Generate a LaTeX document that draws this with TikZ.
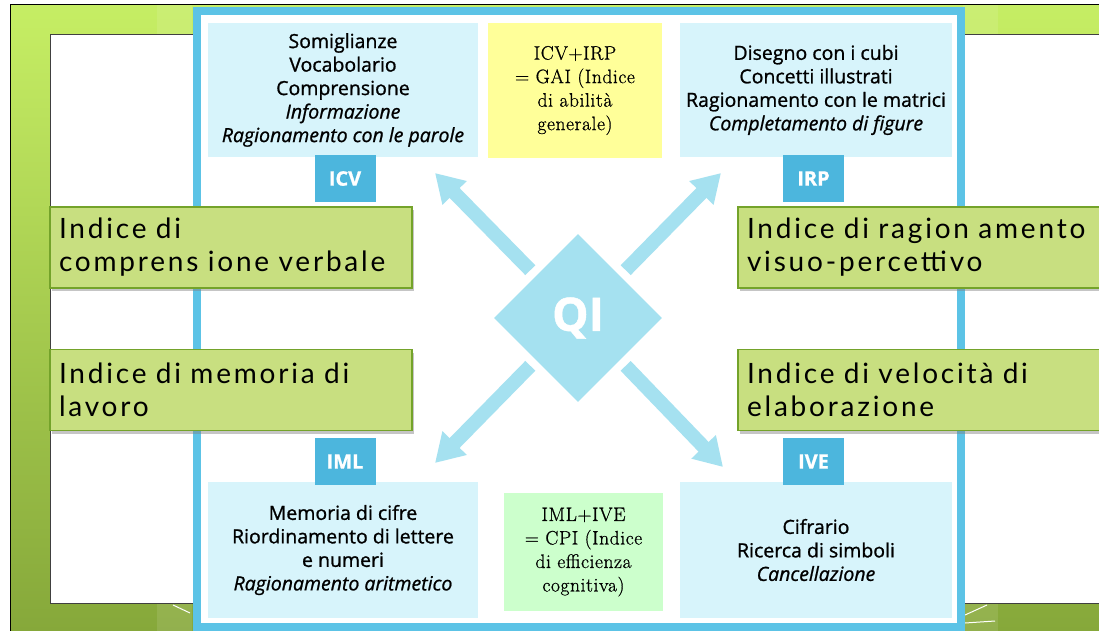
\documentclass[tikz,border=0pt]{standalone}
\usepackage{fontspec}
\newfontfamily\boxfont[FakeBold=1]{Open Sans}
\newfontfamily\indexfont[LetterSpace=10]{Lato}
\newfontfamily\sumfont[FakeBold=0.8,LetterSpace=3]{Latin Modern Roman}
\usetikzlibrary{shapes.geometric,arrows.meta,shadows}

\definecolor{slidetop}{HTML}{C6EE64}
\definecolor{slidebot}{HTML}{86A83A}
\definecolor{panelblue}{HTML}{5CC3E6}
\definecolor{paleblue}{HTML}{D7F4FB}
\definecolor{tagblue}{HTML}{4CB6DD}
\definecolor{qiblue}{HTML}{A5E1F0}
\definecolor{sumyellow}{HTML}{FFFF99}
\definecolor{sumgreen}{HTML}{CCFFCC}
\definecolor{labelfill}{HTML}{C8DF80}
\definecolor{labeledge}{HTML}{74A32A}

\begin{document}
\begin{tikzpicture}[x=1pt,y=-1pt]
\tikzstyle{palebox}=[rectangle,fill=paleblue,inner sep=0pt,align=center,font=\boxfont\fontsize{19.5}{23.5}\selectfont]
\tikzstyle{tagbox}=[rectangle,fill=tagblue,minimum width=61pt,minimum height=47pt,inner sep=0pt,text=white,font=\boxfont\bfseries\fontsize{20}{20}\selectfont]
\tikzstyle{sumbox}=[rectangle,inner sep=0pt,align=center,font=\sumfont\fontsize{19.5}{23.5}\selectfont]
\tikzstyle{indexbox}=[rectangle,fill=labelfill,draw=labeledge,line width=1.5pt,minimum height=81pt,inner xsep=9pt,align=left,font=\indexfont\fontsize{28}{33}\selectfont,drop shadow={shadow xshift=2pt,shadow yshift=-3pt,opacity=0.45}]
\tikzstyle{bigarrow}=[qiblue,line width=14pt,shorten <=8pt,-{Triangle[width=32pt,length=28pt]}]

\fill[white] (0,0) rectangle (1099,631);
\useasboundingbox (0,0) rectangle (1099,631);

\fill[top color=slidetop,bottom color=slidebot] (10,5) rectangle (1099,631);
\fill[white,opacity=0.1] (157,5) rectangle (192,35);
\fill[white,opacity=0.1] (963,5) rectangle (998,35);
\fill[white,opacity=0.1] (157,603) rectangle (192,631);
\fill[white,opacity=0.1] (963,603) rectangle (998,631);
\draw[black,line width=1pt] (10,631) -- (10,5) -- (1099,5);
\filldraw[fill=white,draw=black!75,line width=1pt] (50,35) rectangle (1110,603);
\draw[white,line width=1pt] (173,605) -- (190,613);
\draw[white,line width=1pt] (965,615) -- (987,605);
\draw[white,line width=1pt] (965,623) -- (995,621);

\filldraw[fill=white,draw=panelblue,line width=8pt] (197,11) rectangle (961,627);

\node[palebox,minimum width=270pt,minimum height=134pt] (tests1) at (343,90) {Somiglianze\\Vocabolario\\Comprensione\\\textit{Informazione}\\\textit{Ragionamento con le parole}};
\node[palebox,minimum width=272pt,minimum height=134pt] (tests2) at (816,90) {Disegno con i cubi\\Concetti illustrati\\Ragionamento con le matrici\\\textit{Completamento di figure}};
\node[palebox,minimum width=270pt,minimum height=136pt] (tests3) at (343,550) {Memoria di cifre\\Riordinamento di lettere\\e numeri\\\textit{Ragionamento aritmetico}};
\node[palebox,minimum width=272pt,minimum height=136pt] (tests4) at (816,550) {Cifrario\\Ricerca di simboli\\\textit{Cancellazione}};

\node[sumbox,fill=sumyellow,minimum width=174pt,minimum height=135pt] (gai) at (575,90.5) {ICV+IRP\\= GAI (Indice\\di abilità\\generale)};
\node[sumbox,fill=sumgreen,minimum width=159pt,minimum height=118pt] (cpi) at (583.5,552) {IML+IVE\\= CPI (Indice\\di efficienza\\cognitiva)};

\node[tagbox] (icv) at (345,178.5) {ICV};
\node[tagbox] (irp) at (813.5,178.5) {IRP};
\node[tagbox] (iml) at (345,461.5) {IML};
\node[tagbox] (ive) at (813.5,461.5) {IVE};

\node[diamond,fill=qiblue,minimum width=168pt,minimum height=168pt,inner sep=0pt,text=white,font=\boxfont\bfseries\fontsize{46}{46}\selectfont] (qi) at (578,318) {QI};

\coordinate (tipICV) at (435,173);
\coordinate (tipIRP) at (721,173);
\coordinate (tipIML) at (435,463);
\coordinate (tipIVE) at (723,467);
\draw[bigarrow] (qi.north west) -- (tipICV);
\draw[bigarrow] (qi.north east) -- (tipIRP);
\draw[bigarrow] (qi.south west) -- (tipIML);
\draw[bigarrow] (qi.south east) -- (tipIVE);

\node[indexbox,text width=344pt] (verbal) at (231,247.5) {Indice di\\comprens ione verbale};
\node[indexbox,text width=344pt] (memory) at (231,390) {Indice di memoria di\\lavoro};
\node[indexbox,text width=349pt] (visual) at (921.5,247.5) {Indice di ragion amento\\visuo-percettivo};
\node[indexbox,text width=349pt] (speed) at (921.5,390) {Indice di velocità di\\elaborazione};

\end{tikzpicture}
\end{document}
